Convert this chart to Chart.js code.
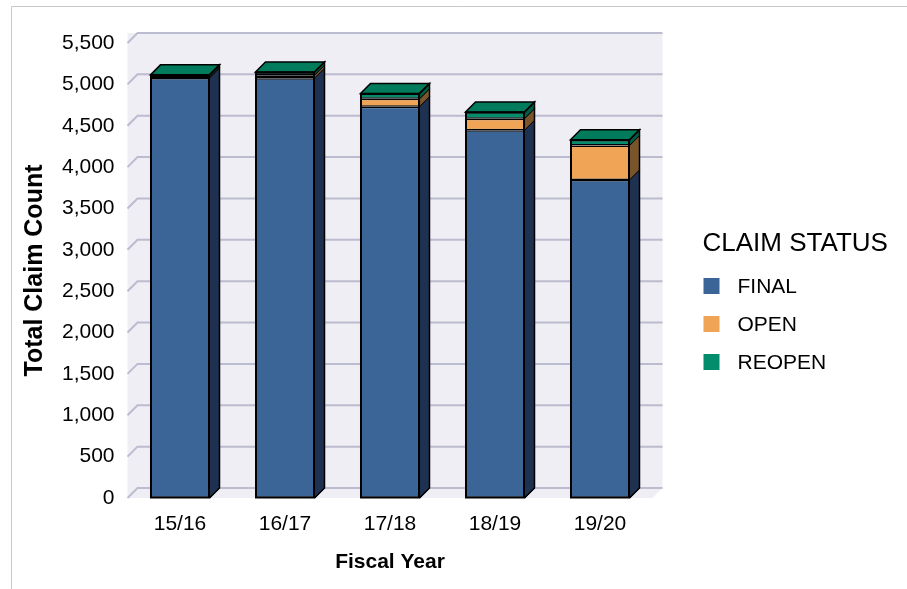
<!DOCTYPE html>
<html lang="en">
<head>
<meta charset="UTF-8">
<title>Total Claim Count by Fiscal Year</title>
<style>
    body { margin: 0; background: #fff; }
    #contenedor { position: relative; width: 907px; height: 589px; }
</style>
</head>
<body>
<div id="contenedor">
    <canvas id="grafica" width="907" height="589"></canvas>
</div>

<script src="https://cdn.jsdelivr.net/npm/chart.js@4.4.0/dist/chart.umd.min.js"></script>
<script>
// Datos
const fiscalYears = ['15/16', '16/17', '17/18', '18/19', '19/20'];
const finalCounts = [5078, 5075, 4730, 4445, 3845];
const openCounts = [10, 35, 95, 140, 415];
const reopenCounts = [27, 40, 65, 80, 70];
const yTickStep = 500;
const yMax = 5500;

// Estilos
const fuente = '"Liberation Sans", Arial, Helvetica, sans-serif';
const frontColors = ['#3a6596', '#f0a455', '#038d6c'];
const sideColors = ['#1f3150', '#7a552c', '#005a43'];
const topColors = ['#2c4c72', '#c98a45', '#007b5b'];
const barDepth = 10;
const wallDepth = 10;

// Marco gris de la imagen
const marco = {
    id: 'marco',
    beforeDraw(chart) {
        const ctx = chart.ctx;
        ctx.save();
        ctx.strokeStyle = '#c8c8c8';
        ctx.lineWidth = 1;
        ctx.beginPath();
        ctx.moveTo(11.5, chart.height);
        ctx.lineTo(11.5, 6.5);
        ctx.lineTo(chart.width, 6.5);
        ctx.stroke();
        ctx.restore();
    }
};

// Pared de fondo, rejilla y caras laterales / superiores de las barras
const efecto3d = {
    id: 'efecto3d',
    beforeDatasetsDraw(chart) {
        const { ctx, chartArea: a, scales: { y } } = chart;
        const d = wallDepth;
        ctx.save();
        ctx.fillStyle = '#efeef5';
        ctx.beginPath();
        ctx.moveTo(a.left, a.top - d);
        ctx.lineTo(a.right + d, a.top - d);
        ctx.lineTo(a.right + d, a.bottom - d);
        ctx.lineTo(a.right, a.bottom);
        ctx.lineTo(a.left, a.bottom);
        ctx.closePath();
        ctx.fill();

        ctx.strokeStyle = '#bcbcd0';
        ctx.lineWidth = 2;
        y.ticks.forEach(t => {
            const py = y.getPixelForValue(t.value);
            ctx.beginPath();
            ctx.moveTo(a.left, py);
            ctx.lineTo(a.left + d, py - d);
            ctx.lineTo(a.right + d, py - d);
            ctx.stroke();
        });
        ctx.restore();
    },
    afterDatasetsDraw(chart) {
        const ctx = chart.ctx;
        const d = barDepth;
        ctx.save();
        ctx.strokeStyle = '#000';
        chart.data.labels.forEach((lab, i) => {
            let arriba = null;
            let arribaIdx = -1;
            let base0 = null;
            chart.data.datasets.forEach((ds, k) => {
                const bar = chart.getDatasetMeta(k).data[i];
                if (!bar || !(ds.data[i] > 0)) return;
                const { x, y, base, width } = bar.getProps(['x', 'y', 'base', 'width'], true);
                if (base0 === null) base0 = base;
                const r = x + width / 2;
                ctx.lineWidth = 1;
                ctx.fillStyle = sideColors[k];
                ctx.beginPath();
                ctx.moveTo(r, y);
                ctx.lineTo(r + d, y - d);
                ctx.lineTo(r + d, base - d);
                ctx.lineTo(r, base);
                ctx.closePath();
                ctx.fill();
                ctx.stroke();
                arriba = { x, y, width };
                arribaIdx = k;
            });
            if (arriba) {
                const l = arriba.x - arriba.width / 2;
                const r = arriba.x + arriba.width / 2;
                ctx.fillStyle = topColors[arribaIdx];
                ctx.lineWidth = 1.5;
                ctx.beginPath();
                ctx.moveTo(l, arriba.y);
                ctx.lineTo(l + d, arriba.y - d);
                ctx.lineTo(r + d, arriba.y - d);
                ctx.lineTo(r, arriba.y);
                ctx.closePath();
                ctx.fill();
                ctx.stroke();
                // contorno exterior de la barra completa
                ctx.lineWidth = 2;
                ctx.strokeRect(l + 0.5, arriba.y + 0.5, arriba.width - 1, base0 - arriba.y - 1);
                ctx.lineWidth = 1.5;
                ctx.beginPath();
                ctx.moveTo(r, arriba.y);
                ctx.lineTo(r + d, arriba.y - d);
                ctx.lineTo(r + d, base0 - d);
                ctx.lineTo(r, base0);
                ctx.stroke();
            }
        });
        ctx.restore();
    }
};

// Leyenda a la derecha
const leyenda = {
    id: 'leyenda',
    afterDraw(chart) {
        const ctx = chart.ctx;
        const x0 = chart.chartArea.right + 50;
        ctx.save();
        ctx.textAlign = 'left';
        ctx.textBaseline = 'middle';
        ctx.fillStyle = '#000';
        ctx.font = '26px ' + fuente;
        ctx.fillText('CLAIM STATUS', x0, 244);
        chart.data.datasets.forEach((ds, k) => {
            const cy = 286 + k * 38;
            ctx.fillStyle = ds.backgroundColor;
            ctx.fillRect(x0 + 1, cy - 8, 16, 16);
            ctx.fillStyle = '#000';
            ctx.font = '21px ' + fuente;
            ctx.fillText(ds.label, x0 + 35, cy + 1);
        });
        ctx.restore();
    }
};

const comunes = {
    borderColor: '#000',
    borderWidth: 1.5,
    borderSkipped: false,
    categoryPercentage: 1,
    barPercentage: 0.562
};

new Chart(document.getElementById('grafica'), {
    type: 'bar',
    data: {
        labels: fiscalYears,
        datasets: [
            { label: 'FINAL', data: finalCounts, backgroundColor: frontColors[0], ...comunes },
            { label: 'OPEN', data: openCounts, backgroundColor: frontColors[1], ...comunes },
            { label: 'REOPEN', data: reopenCounts, backgroundColor: frontColors[2], ...comunes }
        ]
    },
    options: {
        responsive: false,
        animation: false,
        devicePixelRatio: 1,
        layout: { padding: { left: 12, right: 254.5, top: 43, bottom: 10 } },
        plugins: {
            legend: { display: false },
            tooltip: { enabled: false }
        },
        scales: {
            x: {
                stacked: true,
                grid: { display: false, drawTicks: false },
                border: { display: false },
                ticks: { color: '#000', font: { size: 21, family: fuente }, padding: 14 },
                title: {
                    display: true,
                    text: 'Fiscal Year',
                    color: '#000',
                    font: { size: 21, weight: 'bold', family: fuente },
                    padding: { top: 0, bottom: 4 }
                },
                afterFit(s) { s.height = 81; }
            },
            y: {
                stacked: true,
                min: 0,
                max: yMax,
                grid: { display: false, drawTicks: false },
                border: { display: false },
                ticks: {
                    stepSize: yTickStep,
                    color: '#000',
                    font: { size: 21, family: fuente },
                    padding: 13,
                    callback: v => v.toLocaleString('en-US')
                },
                title: {
                    display: true,
                    text: 'Total Claim Count',
                    color: '#000',
                    font: { size: 25, weight: 'bold', family: fuente },
                    padding: { top: 8, bottom: 0 }
                },
                afterFit(s) { s.width = 115.5; }
            }
        }
    },
    plugins: [marco, efecto3d, leyenda]
});
</script>
</body>
</html>
